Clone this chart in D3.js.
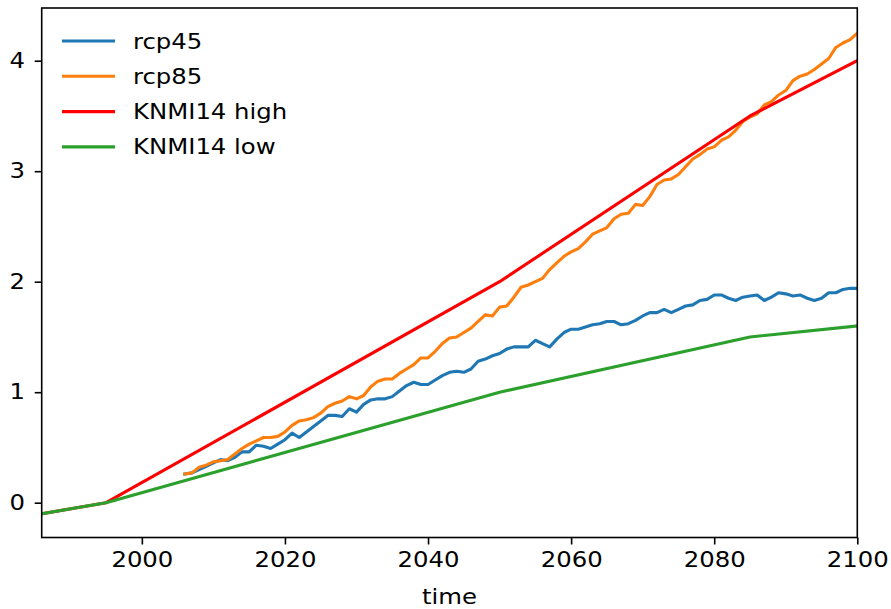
<!DOCTYPE html>
<html>
<head>
<meta charset="utf-8">
<script src="https://cdnjs.cloudflare.com/ajax/libs/d3/7.8.5/d3.min.js"></script>
<style>
  body { margin: 0; background: #fff; }
  text { font-family: "DejaVu Sans", sans-serif; fill: #000; }
</style>
</head>
<body>
<script>
var canvasWidth = 891;
var canvasHeight = 609;
var textStretch = 1.16; // picture text is a bit wider than plain DejaVu

// rcp scenarios, yearly 2006-2100
var rcpStart = 2006;
var rcp45 = [0.26, 0.27, 0.30, 0.33, 0.36, 0.39, 0.38, 0.41, 0.46, 0.46,
	0.52, 0.51, 0.49, 0.53, 0.57, 0.63, 0.59, 0.64, 0.69, 0.74,
	0.79, 0.79, 0.78, 0.85, 0.82, 0.89, 0.93, 0.94, 0.94, 0.96,
	1.01, 1.06, 1.09, 1.07, 1.07, 1.11, 1.15, 1.18, 1.19, 1.18,
	1.21, 1.28, 1.30, 1.33, 1.35, 1.39, 1.41, 1.41, 1.41, 1.47,
	1.44, 1.41, 1.48, 1.54, 1.57, 1.57, 1.59, 1.61, 1.62, 1.64,
	1.64, 1.61, 1.62, 1.65, 1.69, 1.72, 1.72, 1.75, 1.72, 1.75,
	1.78, 1.79, 1.83, 1.84, 1.88, 1.88, 1.85, 1.83, 1.86, 1.87,
	1.88, 1.83, 1.86, 1.90, 1.89, 1.87, 1.88, 1.85, 1.83, 1.85,
	1.90, 1.90, 1.93, 1.94, 1.94];
var rcp85 = [0.26, 0.27, 0.32, 0.34, 0.37, 0.38, 0.39, 0.44, 0.49, 0.53,
	0.56, 0.59, 0.59, 0.60, 0.64, 0.70, 0.74, 0.75, 0.77, 0.81,
	0.87, 0.90, 0.92, 0.96, 0.94, 0.97, 1.05, 1.10, 1.12, 1.12,
	1.17, 1.21, 1.25, 1.31, 1.31, 1.37, 1.44, 1.49, 1.50, 1.54,
	1.58, 1.64, 1.70, 1.69, 1.77, 1.78, 1.86, 1.95, 1.97, 2.00,
	2.03, 2.11, 2.17, 2.23, 2.27, 2.30, 2.36, 2.43, 2.46, 2.49,
	2.57, 2.61, 2.62, 2.70, 2.69, 2.77, 2.88, 2.92, 2.93, 2.97,
	3.04, 3.11, 3.15, 3.20, 3.22, 3.28, 3.31, 3.37, 3.45, 3.49,
	3.52, 3.60, 3.63, 3.69, 3.73, 3.82, 3.86, 3.88, 3.92, 3.97,
	4.02, 4.12, 4.16, 4.19, 4.25];

// KNMI14 scenarios
var knmiYears = [1986, 1995, 2050, 2085, 2100];
var knmiHigh = [-0.1, 0, 2.0, 3.5, 4.0];
var knmiLow = [-0.1, 0, 1.0, 1.5, 1.6];

var xTicks = [2000, 2020, 2040, 2060, 2080, 2100];
var yTicks = [0, 1, 2, 3, 4];
var seriesNames = ["rcp45", "rcp85", "KNMI14 high", "KNMI14 low"];
var seriesColors = ["#1f77b4", "#ff7f0e", "#ff0000", "#2ca02c"];

var margin = {top: 8, right: 33.7, bottom: 71.5, left: 41.7};
var width = canvasWidth - margin.left - margin.right;
var height = canvasHeight - margin.top - margin.bottom;

var svg = d3.select("body").append("svg")
	.attr("width", canvasWidth)
	.attr("height", canvasHeight);

var canvas = svg.append("g")
	.attr("transform", "translate(" + margin.left + "," + margin.top + ")");

var xScale = d3.scaleLinear().domain([1986, 2100]).range([0, width]);
var yScale = d3.scaleLinear().domain([-0.315, 4.477]).range([height, 0]);

svg.append("defs").append("clipPath").attr("id", "clip")
	.append("rect").attr("width", width).attr("height", height);

function rcpPoints(vals) {
	return vals.map(function(v, i) { return [rcpStart + i, v]; });
}
function knmiPoints(vals) {
	return vals.map(function(v, i) { return [knmiYears[i], v]; });
}

var allSeries = [rcpPoints(rcp45), rcpPoints(rcp85), knmiPoints(knmiHigh), knmiPoints(knmiLow)];

var line = d3.line()
	.x(function(d) { return xScale(d[0]); })
	.y(function(d) { return yScale(d[1]); });

canvas.append("g").attr("clip-path", "url(#clip)")
	.selectAll("path")
	.data(allSeries)
	.enter().append("path")
	.attr("fill", "none")
	.attr("stroke", function(d, i) { return seriesColors[i]; })
	.attr("stroke-width", 3.1)
	.attr("stroke-linejoin", "round")
	.attr("stroke-linecap", "square")
	.attr("d", line);

// axes
var xAxis = canvas.append("g")
	.attr("transform", "translate(0," + height + ")")
	.call(d3.axisBottom(xScale).tickValues(xTicks).tickFormat(d3.format("d"))
		.tickSize(7).tickPadding(8));
var yAxis = canvas.append("g")
	.call(d3.axisLeft(yScale).tickValues(yTicks).tickFormat(d3.format("d"))
		.tickSize(7).tickPadding(7.4));

[xAxis, yAxis].forEach(function(ax) {
	ax.select(".domain").remove();
	ax.selectAll("line").attr("stroke", "#000").attr("stroke-width", 1.6);
	ax.selectAll("text").style("font-size", "21px").attr("fill", "#000")
		.attr("transform", "scale(" + textStretch + ",1)");
});

canvas.append("rect")
	.attr("width", width)
	.attr("height", height)
	.attr("fill", "none")
	.attr("stroke", "#000")
	.attr("stroke-width", 1.6);

svg.append("text")
	.attr("transform", "translate(" + (margin.left + width / 2) + ",604) scale(" + textStretch + ",1)")
	.attr("text-anchor", "middle")
	.style("font-size", "21px")
	.text("time");

// legend
var legend = svg.append("g").selectAll("g")
	.data(seriesNames)
	.enter().append("g")
	.attr("transform", function(d, i) { return "translate(62," + (41 + i * 35.3) + ")"; });

legend.append("line")
	.attr("x1", 0).attr("x2", 53)
	.attr("stroke", function(d, i) { return seriesColors[i]; })
	.attr("stroke-width", 3.1);

legend.append("text")
	.attr("transform", "translate(71,0) scale(" + textStretch + ",1)")
	.attr("dy", "0.36em")
	.style("font-size", "21px")
	.text(function(d) { return d; });
</script>
</body>
</html>
